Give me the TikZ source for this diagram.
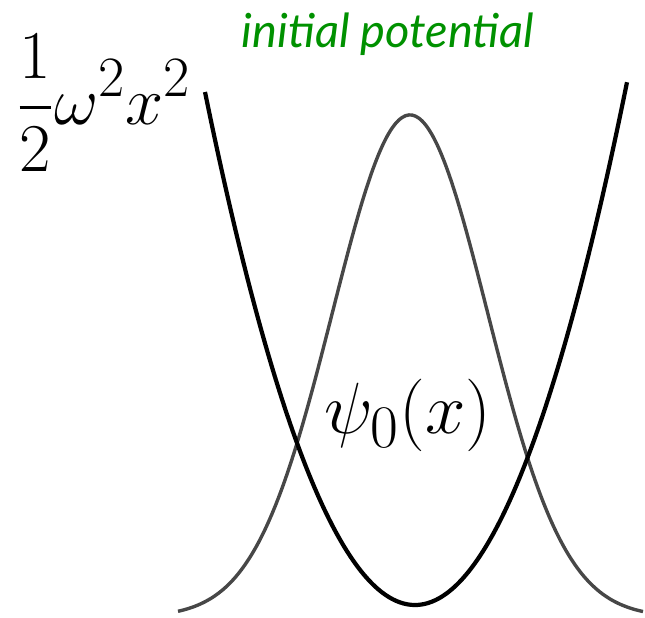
\documentclass[tikz,border=0pt]{standalone}
\usepackage{amsmath}
\usepackage{fontspec}
\newfontfamily\labelfont{Lato}
\usepackage{tikz}
\definecolor{initgreen}{RGB}{0,145,0}
\newcommand{\bigeq}[1]{\scalebox{2.75}{\Huge$\displaystyle #1$}}

\begin{document}
\begin{tikzpicture}[x=1pt,y=-1pt,
  potential/.style={line width=4.2pt, black},
  wavefn/.style={line width=3.4pt, black!72},
  bigmath/.style={inner sep=0pt},
  greenlabel/.style={font=\labelfont\itshape\fontsize{47}{56}\selectfont, text=initgreen, inner sep=0pt}]
  \useasboundingbox (0,0) rectangle (645,618);
  % ground state wave function
  \draw[wavefn] plot[domain=178:643, samples=140, smooth] (\x,{617-502*exp(-(((\x-410)/109.7)^2))});
  % harmonic potential
  \draw[potential] plot[domain=205:627, samples=120, smooth] (\x,{605-513*((\x-415)/210)^2});
  \node[bigmath, anchor=west] (potlabel) at (16,103) {\bigeq{\frac{1}{2}\omega^2x^2}};
  \node[bigmath] (psilabel) at (408,415) {\scalebox{1.06}{\bigeq{\psi_0(x)}}};
  \node[greenlabel, anchor=base] (initlabel) at (388,48) {initial potential};
\end{tikzpicture}
\end{document}
